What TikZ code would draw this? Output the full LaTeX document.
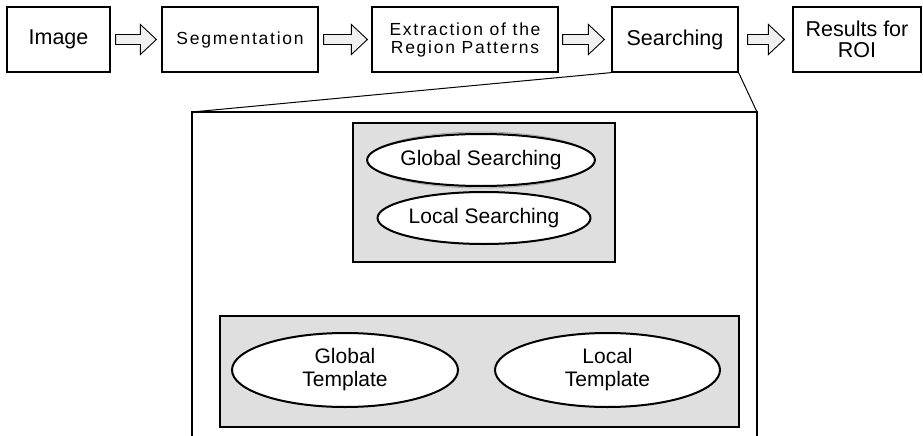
\documentclass[tikz,border=0pt]{standalone}
\usepackage{fontspec}
\setmainfont{Liberation Sans}
\newfontfamily\spacedfont[LetterSpace=10]{Liberation Sans}
\usetikzlibrary{shapes.geometric,calc}
\newcommand\blockarrow[4]{%
  \path let \p1=($(#1.east)+(#3pt,0pt)$), \p2=($(#2.west)+(-#4pt,0pt)$) in
    [draw=black, line width=0.9pt, fill=gray!12, line join=miter]
    (\x1,\y1+5pt) -- (\x2-16pt,\y1+5pt) -- (\x2-16pt,\y1+15pt) -- (\x2,\y1)
    -- (\x2-16pt,\y1-15pt) -- (\x2-16pt,\y1-5pt) -- (\x1,\y1-5pt) -- cycle;}
\begin{document}
\begin{tikzpicture}[x=1pt,y=-1pt,
  stepbox/.style={draw, line width=1.2pt, inner sep=0pt, align=center, fill=white,
    font=\fontsize{21.5}{21.5}\selectfont},
  smalltext/.style={font=\spacedfont\fontsize{17.5}{18}\selectfont},
  panel/.style={draw, line width=1.5pt, fill=gray!25, inner sep=0pt},
  oval/.style={ellipse, draw, line width=2pt, fill=white, inner sep=0pt, align=center,
    font=\fontsize{21}{23}\selectfont},
  thinline/.style={line width=1pt}
]
\useasboundingbox (0,0) rectangle (923,436);
% top row
\node[stepbox, minimum width=103pt, minimum height=65pt] (img) at (58.5,39.5) {Image};
\node[stepbox, smalltext, minimum width=156pt, minimum height=65pt] (seg) at (240,39.5) {Segmentation};
\node[stepbox, smalltext, minimum width=186pt, minimum height=65pt] (ext) at (465,39.5) {Extraction of the\\Region Patterns};
\node[stepbox, minimum width=126pt, minimum height=65pt] (srch) at (675,39.5) {Searching};
\node[stepbox, minimum width=128pt, minimum height=65pt] (res) at (857,39.5) {Results for\\ROI};
\blockarrow{img}{seg}{5}{5}
\blockarrow{seg}{ext}{5}{4}
\blockarrow{ext}{srch}{4}{7}
\blockarrow{srch}{res}{9}{8}
% zoom box
\coordinate (bbtl) at (192,112);
\coordinate (bbtr) at (757,112);
\coordinate (bbbl) at (192,436);
\coordinate (bbbr) at (757,436);
\draw[line width=1.3pt] (bbbl) -- (bbtl) -- (bbtr) -- (bbbr);
\draw[thinline] (srch.south west) -- (bbtl);
\draw[thinline] (srch.south east) -- (bbtr);
% upper panel
\node[panel, minimum width=262pt, minimum height=139pt] (up) at (484,192.5) {};
\draw[gray!70, line width=0.8pt] (481,160) ellipse [x radius=113pt, y radius=28pt];
\node[oval, minimum width=212pt, minimum height=52pt] (gs) at (481,160) {Global Searching};
\node[oval, minimum width=210pt, minimum height=52pt] (ls) at (484,218) {Local Searching};
% lower panel
\node[panel, minimum width=519pt, minimum height=111pt] (low) at (479.5,371.5) {};
\node[oval, minimum width=226pt, minimum height=74pt] (gt) at (345,370) {Global\\Template};
\node[oval, minimum width=225pt, minimum height=74pt] (lt) at (607.5,370) {Local\\Template};
\end{tikzpicture}
\end{document}
